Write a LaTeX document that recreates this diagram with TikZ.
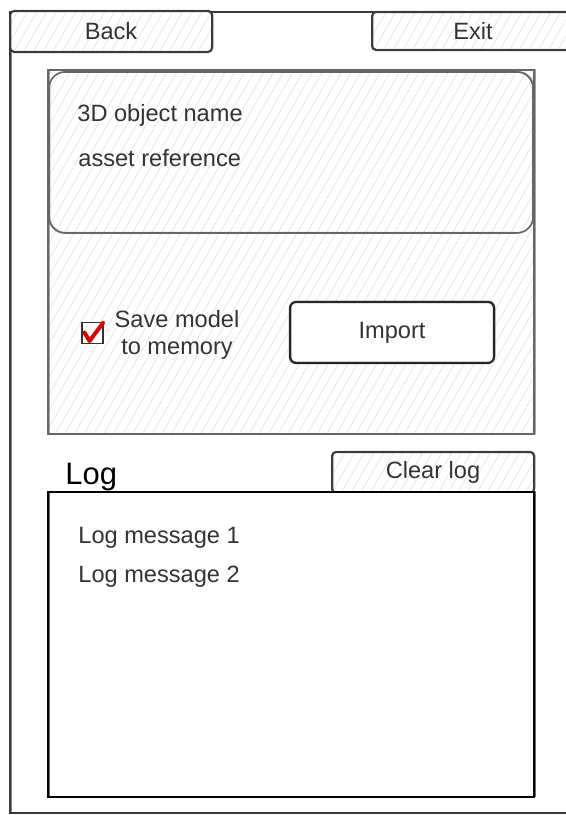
\documentclass[tikz,border=0pt]{standalone}
\usepackage{fontspec}
\setmainfont{Liberation Sans}
\usetikzlibrary{patterns.meta}
\definecolor{ink}{HTML}{333333}
\definecolor{frame}{HTML}{3A3A3A}
\definecolor{panelgray}{HTML}{666666}
\definecolor{hatch}{HTML}{E2E2E2}
\definecolor{checkred}{HTML}{E00000}
\tikzset{
  hatched/.style={preaction={fill=white},
    pattern={Lines[angle=60,distance=4.2pt,line width=0.3pt]},
    pattern color=hatch},
  % faint second pass of the outline for a hand-drawn feel
  rough/.style={postaction={draw, line width=0.35pt, opacity=0.6,
    transform canvas={shift={(0.45pt,0.35pt)}}}},
  btn/.style={draw=frame, line width=1pt, rounded corners=2pt, hatched, rough,
    font=\fontsize{11.8}{14}\selectfont, text=ink, inner sep=0pt},
  lbl/.style={font=\fontsize{11.8}{13.5}\selectfont, text=ink, inner sep=0pt},
}
\begin{document}
\begin{tikzpicture}[x=0.5pt,y=-0.5pt]
  \path[use as bounding box] (0,0) rectangle (566,815);
  \clip (0,0) rectangle (566,815);

  % window frame (open to the right)
  \coordinate (fTR) at (566,12);
  \coordinate (fTL) at (10,12);
  \coordinate (fBL) at (10,813);
  \coordinate (fBR) at (566,813);
  \draw[frame, line width=0.9pt, rough] (fTR) -- (fTL) -- (fBL) -- (fBR);

  % top buttons
  \node[btn, minimum width=101pt, minimum height=20.5pt] (back) at (111,31.5) {Back};
  \node[btn, minimum width=101pt, minimum height=19pt] (exit) at (473,31) {Exit};

  % import panel
  \node[draw=panelgray, line width=0.8pt, hatched, rough, minimum width=243pt,
        minimum height=182pt, inner sep=0pt] (panel) at (291,252) {};
  \node[draw=panelgray, line width=0.8pt, hatched, rough, rounded corners=8pt,
        minimum width=242pt, minimum height=80.5pt, inner sep=0pt] (fields) at (291,152.5) {};
  \node[lbl, anchor=base west] (objname) at (77,121) {3D object name};
  \node[lbl, anchor=base west] (assetref) at (78,166) {asset reference};

  % checkbox with label
  \node[draw=ink, fill=white, line width=0.7pt, minimum size=10.5pt, inner sep=0pt] (chk) at (92.5,333) {};
  \coordinate (c1) at (84.5,332.5);
  \coordinate (c2) at (89.5,341);
  \coordinate (c3) at (103,323);
  \draw[checkred, line width=2pt, line join=round, line cap=round] (c1) -- (c2) -- (c3);
  \node[lbl, align=center, anchor=base] (save) at (177,354) {Save model\\to memory};

  % import button
  \node[draw=black!85, fill=white, line width=1.1pt, rounded corners=3pt, rough,
        minimum width=102pt, minimum height=30.5pt, inner sep=0pt, lbl] (import) at (392,332.5) {Import};

  % log area
  \node[font=\fontsize{15.5}{18}\selectfont, text=black, anchor=base west, inner sep=0pt] (loglbl) at (65,484) {Log};
  \node[btn, minimum width=101pt, minimum height=20.5pt] (clear) at (433,472.5) {Clear log};
  \node[draw=black, fill=white, line width=1.1pt, rough, minimum width=243pt,
        minimum height=152.5pt, inner sep=0pt] (logbox) at (291,644.5) {};
  \node[lbl, anchor=base west] (msg1) at (78,543.5) {Log message 1};
  \node[lbl, anchor=base west] (msg2) at (78,582.5) {Log message 2};
\end{tikzpicture}
\end{document}
